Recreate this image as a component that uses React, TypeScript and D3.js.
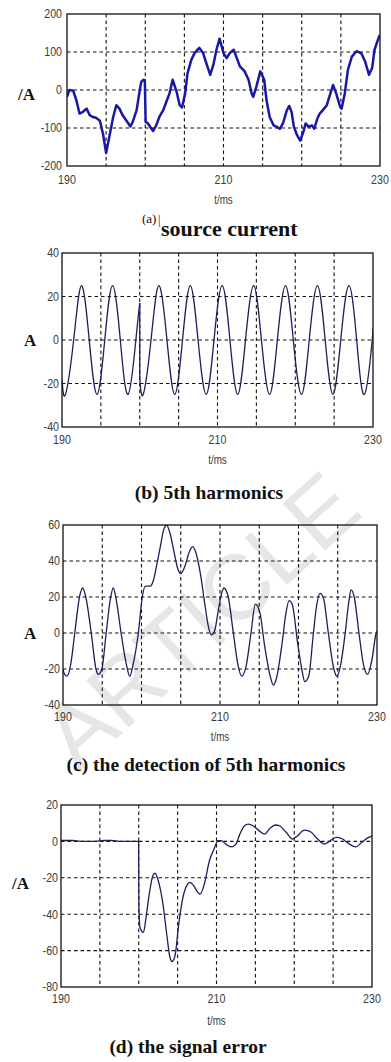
import React from 'react';
import * as d3 from 'd3';

const W = 391;
const H = 1062;

const timeGrid = [190, 195, 200, 205, 210, 215, 220, 225, 230];
const timeLabels = [190, 210, 230];

const ticksA = [-200, -100, 0, 100, 200];
const ticksB = [-40, -20, 0, 20, 40];
const ticksC = [-40, -20, 0, 20, 40, 60];
const ticksD = [-80, -60, -40, -20, 0, 20];

// (a) source current
const sourceCurrent: [number, number][] = [
  [190, -18], [190.3, 0], [190.8, -2], [191.2, -27], [191.6, -62], [192.0, -58], [192.5, -49],
  [192.9, -66], [193.3, -71], [193.7, -73], [194.2, -81], [194.6, -115], [195.0, -166], [195.4, -124],
  [195.9, -71], [196.3, -40], [196.7, -49], [197.1, -66], [197.6, -81], [198.1, -96], [198.4, -84],
  [198.9, -53], [199.3, 0], [199.5, 22], [199.8, 27], [199.95, 22], [200.05, -84], [200.3, -87],
  [200.8, -102], [201.0, -108], [201.4, -93], [201.8, -71], [202.3, -53], [202.7, -31], [203.1, -9],
  [203.5, 27], [204.0, -4], [204.4, -40], [204.7, -46], [205.1, -9], [205.4, 44], [205.9, 80],
  [206.3, 97], [206.9, 111], [207.4, 97], [207.8, 71], [208.3, 40], [208.7, 66], [209.1, 106],
  [209.5, 135], [210.0, 97], [210.4, 84], [210.8, 97], [211.3, 106], [211.7, 84], [212.1, 62],
  [212.7, 49], [213.2, 27], [213.6, -9], [213.8, -18], [214.2, 9], [214.7, 49], [215.2, 27],
  [215.5, -27], [215.9, -71], [216.4, -93], [216.8, -97], [217.2, -102], [217.6, -88], [218.1, -53],
  [218.4, -42], [218.7, -58], [219.0, -97], [219.4, -119], [219.8, -133], [220.2, -111], [220.5, -88],
  [220.9, -97], [221.3, -93], [221.6, -102], [222.0, -75], [222.3, -62], [222.7, -53], [223.2, -40],
  [223.6, -13], [224.0, 13], [224.4, -9], [224.9, -44], [225.1, -49], [225.5, -9], [225.9, 53],
  [226.4, 88], [227.0, 102], [227.6, 97], [228.1, 75], [228.6, 40], [229.0, 58], [229.3, 106],
  [229.9, 142], [230, 140],
];

// (b) 5th harmonics, before and after the step at 200 ms
const harmonicBefore: [number, number][] = [
  [190, -18], [190.45, -25], [191.5, 0], [192.5, 25], [193.5, 0], [194.5, -25], [195.5, 0],
  [196.5, 25], [197.5, 0], [198.5, -25], [199.5, 0], [200, 17],
];
const harmonicJump: [number, number][] = [[200, 17], [200, -17]];
const harmonicAfter: [number, number][] = [
  [200, -17], [200.45, -25], [201.45, 0], [202.45, 25], [203.5, 0], [204.5, -25], [205.5, 0],
  [206.5, 25], [207.5, 0], [208.55, -25], [209.55, 0], [210.6, 25], [211.6, 0], [212.6, -25],
  [213.6, 0], [214.65, 25], [215.65, 0], [216.7, -25], [217.7, 0], [218.75, 25], [219.75, 0],
  [220.8, -25], [221.8, 0], [222.85, 25], [223.85, 0], [224.85, -25], [225.85, 0], [226.9, 25],
  [227.9, 0], [228.9, -25], [229.9, 0], [230, 4],
];

// (c) detection of 5th harmonics
const detection: [number, number][] = [
  [190, -20], [190.1, -22], [190.5, -24], [191.0, -17], [191.5, 0], [192.1, 20], [192.5, 25],
  [192.9, 20], [193.6, 0], [194.2, -20], [194.5, -23], [194.95, -20], [195.5, 0], [196.0, 18],
  [196.4, 25], [196.8, 18], [197.4, 0], [198.1, -18], [198.5, -24], [198.9, -18], [199.6, 0],
  [200.1, 20], [200.5, 26], [201.1, 26], [201.5, 29], [201.9, 37], [202.4, 48], [202.8, 57],
  [203.2, 60], [203.6, 56], [204.1, 46], [204.6, 36], [205.0, 33], [205.6, 38], [206.0, 44],
  [206.5, 48], [206.9, 45], [207.5, 33], [208.1, 15], [208.5, 4], [208.9, -1], [209.3, 1],
  [209.8, 13], [210.2, 22], [210.5, 25], [211.05, 20], [211.7, 0], [212.3, -18], [212.75, -24],
  [213.3, -19], [213.95, 0], [214.5, 16], [215.1, 11], [215.65, -6], [216.4, -24], [216.8, -29],
  [217.2, -25], [217.9, -6], [218.4, 11], [218.8, 18], [219.2, 16], [219.9, -6], [220.5, -22],
  [220.8, -27], [221.3, -24], [221.9, 0], [222.3, 15], [222.75, 22], [223.2, 19], [223.8, 0],
  [224.5, -20], [224.9, -24], [225.4, -17], [225.95, 0], [226.4, 17], [226.7, 24], [227.1, 20],
  [227.7, 0], [228.3, -18], [228.8, -23], [229.35, -15], [229.9, 0], [230, 1],
];

// (d) signal error
const signalError: [number, number][] = [
  [190, 0.5], [191.5, 0.5], [192.5, 0], [194.5, 0], [195.5, 0.5], [196.5, 0.5], [197.5, 0],
  [199.98, 0], [200.02, -36], [200.15, -47], [200.6, -50], [200.9, -43], [201.35, -29], [201.8, -19],
  [202.1, -17.5], [202.5, -21.5], [203.1, -34], [203.6, -51], [204.0, -63.5], [204.3, -66],
  [204.7, -62], [205.1, -47], [205.6, -32.5], [206.2, -24], [206.6, -22.5], [207.0, -24],
  [207.6, -28], [207.9, -29], [208.4, -24], [209.1, -10.5], [209.7, -4], [210.2, 0.4], [210.6, 0.4],
  [211.2, -1.5], [211.9, -3], [212.5, -1.5], [213.0, 4], [213.6, 8.6], [214.1, 9.5], [214.7, 8.6],
  [215.5, 5.8], [216.2, 4], [216.8, 6.8], [217.6, 9], [218.1, 8.6], [218.95, 5], [219.8, 1.3],
  [220.4, 3], [221.3, 6.2], [222.2, 5], [223.0, 1.3], [223.9, -1.5], [224.5, 0], [225.4, 2.2],
  [226.1, 1.6], [227.1, -1.5], [227.9, -3], [228.7, -0.5], [229.4, 1.8], [230, 3],
];

type Box = { l: number; r: number; t: number; b: number };

type Series = { data: [number, number][]; curve: d3.CurveFactory };

function Panel(props: {
  id: string;
  box: Box;
  yDomain: [number, number];
  yTicks: number[];
  series: Series[];
  color: string;
  strokeWidth: number;
  xLabelY: number;
  tmsY: number;
  tickGap: number;
}) {
  const { id, box, yDomain, yTicks, series, color, strokeWidth, xLabelY, tmsY, tickGap } = props;
  const x = d3.scaleLinear().domain([190, 230]).range([box.l, box.r]);
  const y = d3.scaleLinear().domain(yDomain).range([box.b, box.t]);
  const innerX = timeGrid.filter((t) => t !== 190 && t !== 230);
  const innerY = yTicks.filter((v) => v !== yDomain[0] && v !== yDomain[1]);
  const tickFont = 'Liberation Sans, Arial, sans-serif';
  return (
    <g>
      <defs>
        <clipPath id={`clip-${id}`}>
          <rect x={box.l} y={box.t} width={box.r - box.l} height={box.b - box.t} />
        </clipPath>
      </defs>
      {innerX.map((t) => (
        <line key={`gx${t}`} x1={x(t)} x2={x(t)} y1={box.t} y2={box.b} stroke="#111" strokeWidth={1.1} strokeDasharray="3.5,3" />
      ))}
      {innerY.map((v) => (
        <line key={`gy${v}`} x1={box.l} x2={box.r} y1={y(v)} y2={y(v)} stroke="#111" strokeWidth={1.1} strokeDasharray="3.5,3" />
      ))}
      <g clipPath={`url(#clip-${id})`}>
        {series.map((s, i) => {
          const line = d3
            .line<[number, number]>()
            .x((d) => x(d[0]))
            .y((d) => y(d[1]))
            .curve(s.curve);
          return (
            <path key={i} d={line(s.data) || ''} fill="none" stroke={color} strokeWidth={strokeWidth} strokeLinejoin="round" />
          );
        })}
      </g>
      <rect x={box.l} y={box.t} width={box.r - box.l} height={box.b - box.t} fill="none" stroke="#111" strokeWidth={1.3} />
      {yTicks.map((v) => (
        <text
          key={`ty${v}`}
          transform={`translate(${box.l - tickGap},${y(v)}) scale(0.82,1)`}
          textAnchor="end"
          dominantBaseline="central"
          fontFamily={tickFont}
          fontSize={13}
          fill="#3a3a3a"
        >
          {v}
        </text>
      ))}
      {timeLabels.map((t) => (
        <text
          key={`tx${t}`}
          transform={`translate(${x(t)},${xLabelY}) scale(0.82,1)`}
          textAnchor="middle"
          dominantBaseline="central"
          fontFamily={tickFont}
          fontSize={13}
          fill="#3a3a3a"
        >
          {t}
        </text>
      ))}
      <text
        transform={`translate(${(box.l + box.r) / 2},${tmsY}) scale(0.82,1)`}
        textAnchor="middle"
        dominantBaseline="central"
        fontFamily={tickFont}
        fontSize={12}
        fill="#3a3a3a"
      >
        t/ms
      </text>
    </g>
  );
}

export default function App() {
  const serif = 'Liberation Serif, Times New Roman, serif';
  const navy = '#1e1e5c';
  return (
    <svg
      width={W}
      height={H}
      viewBox={`0 0 ${W} ${H}`}
      style={{ position: 'absolute', left: 0, top: 0, background: '#fff' }}
    >
      <rect x={0} y={0} width={W} height={H} fill="#fff" />
      <text
        transform="translate(200,620) rotate(-42)"
        textAnchor="middle"
        dominantBaseline="central"
        fontFamily="Liberation Sans, Arial, sans-serif"
        fontSize={92}
        fill="#e6e6e6"
      >
        ARTICLE
      </text>

      <Panel
        id="a"
        box={{ l: 67, r: 380, t: 14, b: 166 }}
        yDomain={[-200, 200]}
        yTicks={ticksA}
        series={[{ data: sourceCurrent, curve: d3.curveLinear }]}
        color="#1818a4"
        strokeWidth={2.5}
        xLabelY={180}
        tmsY={200}
        tickGap={5}
      />
      <text x={18} y={100} fontFamily={serif} fontWeight="bold" fontSize={17} fill="#111">/A</text>
      <text x={142} y={223} fontFamily={serif} fontSize={13} fill="#111">(a)</text>
      <text x={158} y={224} fontFamily={serif} fontSize={12} fill="#111">|</text>
      <text x={161} y={236} fontFamily={serif} fontWeight="bold" fontSize={22} fill="#111">source current</text>

      <Panel
        id="b"
        box={{ l: 62, r: 373, t: 253, b: 427 }}
        yDomain={[-40, 40]}
        yTicks={ticksB}
        series={[
          { data: harmonicBefore, curve: d3.curveNatural },
          { data: harmonicJump, curve: d3.curveLinear },
          { data: harmonicAfter, curve: d3.curveNatural },
        ]}
        color={navy}
        strokeWidth={1.3}
        xLabelY={440}
        tmsY={460}
        tickGap={3}
      />
      <text x={24} y={346} fontFamily={serif} fontWeight="bold" fontSize={17} fill="#111">A</text>
      <text x={209} y={499} textAnchor="middle" fontFamily={serif} fontWeight="bold" fontSize={19.5} fill="#111">(b) 5th harmonics</text>

      <Panel
        id="c"
        box={{ l: 63, r: 377, t: 525, b: 705 }}
        yDomain={[-40, 60]}
        yTicks={ticksC}
        series={[{ data: detection, curve: d3.curveMonotoneX }]}
        color={navy}
        strokeWidth={1.3}
        xLabelY={717}
        tmsY={737}
        tickGap={3}
      />
      <text x={24} y={639} fontFamily={serif} fontWeight="bold" fontSize={17} fill="#111">A</text>
      <text x={206} y={771} textAnchor="middle" fontFamily={serif} fontWeight="bold" fontSize={19.5} fill="#111">(c) the detection of 5th harmonics</text>

      <Panel
        id="d"
        box={{ l: 61, r: 372, t: 805, b: 987 }}
        yDomain={[-80, 20]}
        yTicks={ticksD}
        series={[{ data: signalError, curve: d3.curveMonotoneX }]}
        color={navy}
        strokeWidth={1.3}
        xLabelY={999}
        tmsY={1021}
        tickGap={3}
      />
      <text x={12} y={889} fontFamily={serif} fontWeight="bold" fontSize={17} fill="#111">/A</text>
      <text x={188} y={1053} textAnchor="middle" fontFamily={serif} fontWeight="bold" fontSize={19.5} fill="#111">(d) the signal error</text>
    </svg>
  );
}
